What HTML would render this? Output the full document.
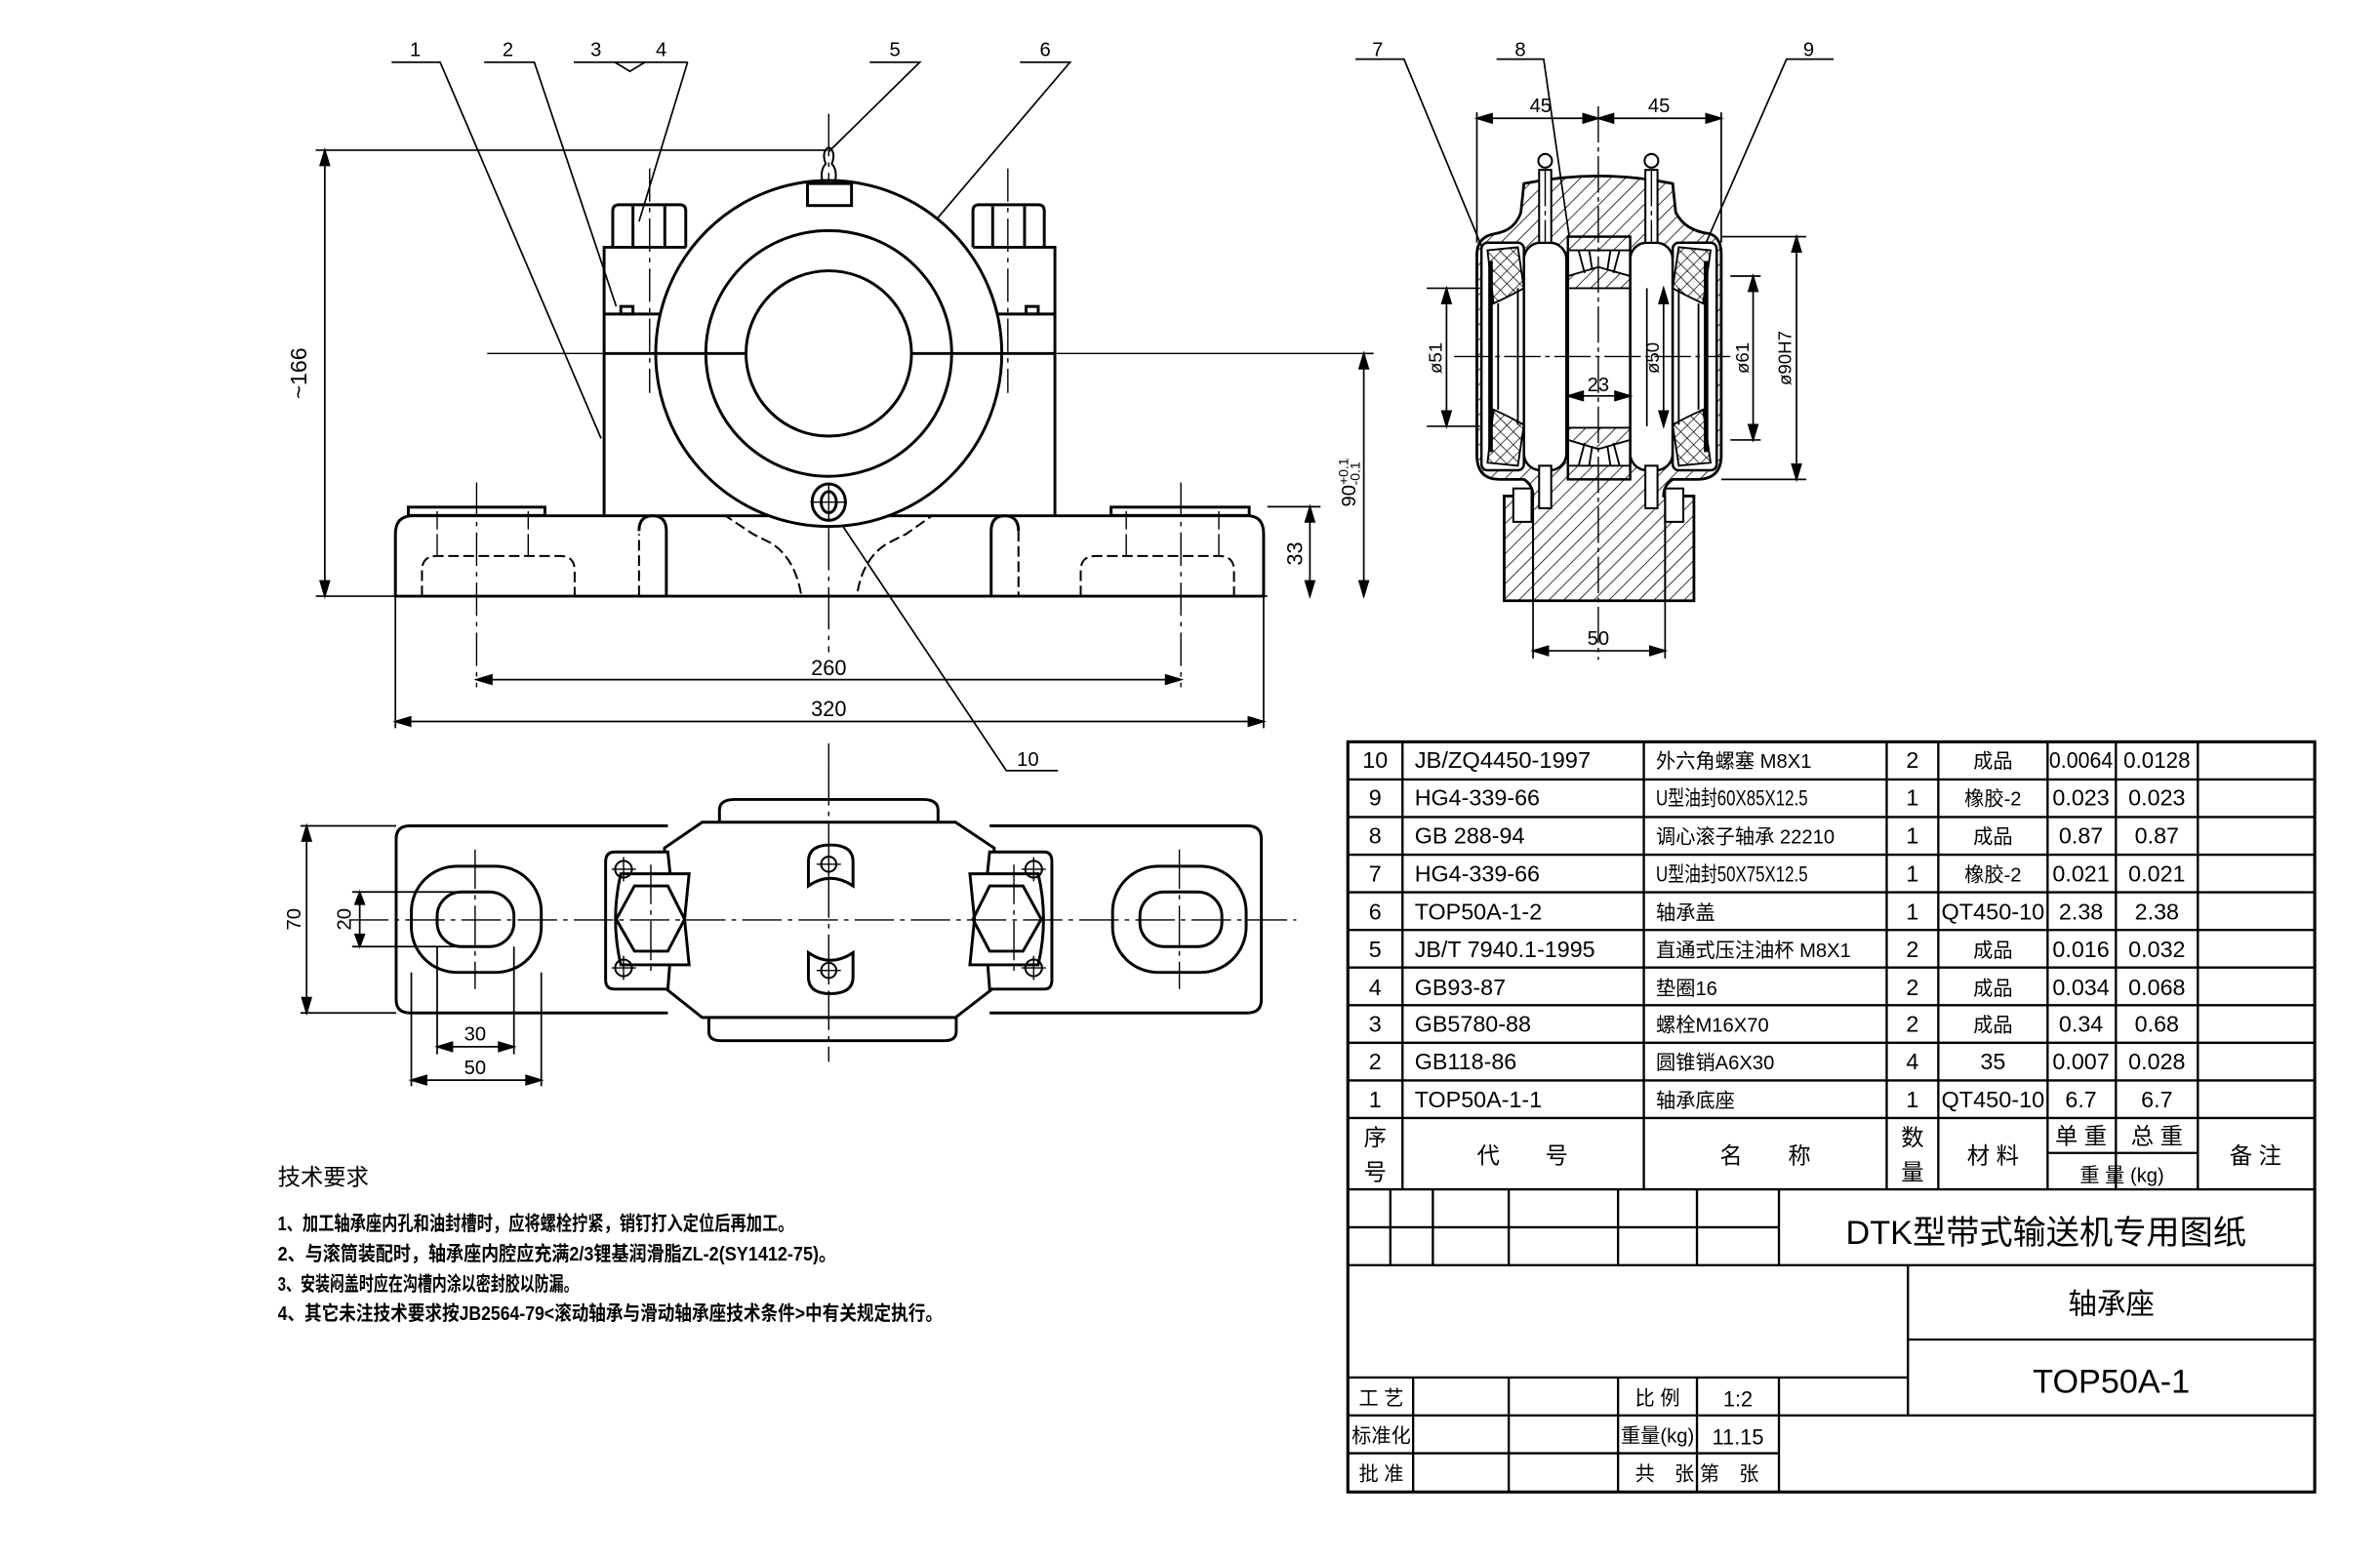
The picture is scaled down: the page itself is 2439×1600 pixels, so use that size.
<!DOCTYPE html>
<html><head><meta charset="utf-8"><style>
html,body{margin:0;padding:0;background:#fff}
svg{display:block}
text{font-family:"Liberation Sans","Noto Sans CJK SC",sans-serif;fill:#000}
</style></head><body>
<svg width="2439" height="1600" viewBox="0 0 1568 1029" preserveAspectRatio="none" xmlns="http://www.w3.org/2000/svg">
<defs>
<pattern id="h" patternUnits="userSpaceOnUse" width="7" height="7" patternTransform="rotate(45)"><line x1="0" y1="0" x2="0" y2="7" stroke="#000" stroke-width="1"/></pattern>
<pattern id="x" patternUnits="userSpaceOnUse" width="6" height="6" patternTransform="rotate(45)"><path d="M0 0V6M0 0H6" stroke="#000" stroke-width="0.9" fill="none"/></pattern>
</defs>
<rect width="1568" height="1029" fill="#fff"/>
<g fill="none" stroke="#000" stroke-width="1.1" font-size="13">
<!-- ===== FRONT VIEW ===== -->
<path d="M258 41H290L396 289M319 41H352L406 202M378 41H453M405 41L415 47L425 41M453 41L421 146M573 41H606L546 100M672 41H705L609 154M546 333L663 508H697"/>
<text x="270" y="37" stroke="none">1</text><text x="331" y="37" stroke="none">2</text>
<text x="389" y="37" stroke="none">3</text><text x="432" y="37" stroke="none">4</text>
<text x="586" y="37" stroke="none">5</text><text x="685" y="37" stroke="none">6</text>
<text x="670" y="505" stroke="none">10</text>
<path d="M546 75V430M546 490V505" stroke-dasharray="28 4 3 4" stroke-width="0.9"/>
<path d="M321 233H897" stroke-width="0.9"/>
<path d="M428 111V259M664 111V259M314 318V453M778 318V453" stroke-dasharray="22 4 3 4" stroke-width="0.9"/>
<g stroke-width="1.9">
<path d="M260.5 393V352Q260.5 340 272 340H822Q832.5 340 832.5 352V393Z"/>
<rect x="269" y="334.3" width="90" height="5.5"/>
<rect x="732" y="334.3" width="91" height="5.5"/>
<path d="M439 393V350Q439 340 430 340Q421 340 421 350" />
<path d="M653 393V350Q653 340 662 340Q671 340 671 350"/>
<path d="M398 340V163H452M398 207H440Q447 207 449 200M695 340V163H641M695 207H653Q646 207 644 200"/>
<path d="M403.7 163V139Q403.7 135 408 135H448Q451.8 135 451.8 139V163M417 135V163M438 135V163"/>
<path d="M641 163V139Q641 135 645 135H684Q688 135 688 139V163M654 135V163M675 135V163"/>
<rect x="409" y="202" width="8" height="5"/><rect x="676" y="202" width="8" height="5"/>
<circle cx="546" cy="233" r="114" fill="#fff"/>
<circle cx="546" cy="233" r="81"/>
<circle cx="546" cy="233" r="54.5"/>
<path d="M398 233H492M601 233H695"/>
<rect x="532" y="121" width="29" height="14.5" fill="#fff"/>
<path d="M542 121Q540 112 544 108Q541 100 546 97Q551 100 548 108Q552 112 550 121" stroke-width="1.3"/>
<ellipse cx="546" cy="331" rx="11" ry="12" fill="#fff"/><ellipse cx="546" cy="331" rx="5" ry="7"/>
</g>
<path d="M534 331H558M546 318V344" stroke-width="0.9"/>
<path d="M421 393V352M466 340L478 340L496 352L508 358Q524 368 528 393M628 340L614 340L597 352L585 358Q568 368 564.5 393M278 393V376Q278 366.5 288 366.5H369Q378.6 366.5 378.6 376V393M712 393V376Q712 366.5 722 366.5H803Q813 366.5 813 376V393M671 350V393" stroke-dasharray="7 3" stroke-width="1.3"/>
<path d="M288 366V337M348 366V337M742 366V337M803 366V337" stroke-dasharray="14 3" stroke-width="0.9"/>
<path d="M208 99H545M208 393H835M214 99V393M314 448H778M260.5 393V480M832.5 393V480M260.5 475.6H832.5M835 334H870M863 334V393M897 233H905M898.5 233V393"/>
<path d="M214 99l-3 10h6zM214 393l-3-10h6zM314 448l10-3v6zM778 448l-10-3v6zM260.5 475.6l10-3v6zM832.5 475.6l-10-3v6zM863 334l-3 10h6zM863 393l-3-10h6zM898.5 233l-3 10h6zM898.5 393l-3-10h6z" fill="#000"/>
<text x="202" y="246" font-size="15" stroke="none" transform="rotate(-90 202 246)" text-anchor="middle">~166</text>
<text x="546" y="445" font-size="14" stroke="none" text-anchor="middle">260</text>
<text x="546" y="472" font-size="14" stroke="none" text-anchor="middle">320</text>
<text x="858" y="365" font-size="14" stroke="none" transform="rotate(-90 858 365)" text-anchor="middle">33</text>
<text x="893" y="318" font-size="13" stroke="none" transform="rotate(-90 893 318)" text-anchor="middle">90<tspan font-size="9" dy="-5">+0.1</tspan><tspan font-size="9" dx="-18" dy="8">-0.1</tspan></text>

<!-- ===== SIDE VIEW ===== -->
<path d="M893 39H925L983 179M986 39H1017L1036 171M1208 39H1177L1124 160"/>
<text x="904" y="37" stroke="none">7</text><text x="998" y="37" stroke="none">8</text><text x="1188" y="37" stroke="none">9</text>
<path d="M1004 121Q1053 111 1102 121L1104 140Q1110 152 1126 154Q1134 156 1134 168V300Q1134 316 1118 316H1102Q1096 320 1096 327H1116V396H991V327H1010Q1010 320 1004 316H988Q973 316 973 300V168Q973 156 985 154Q998 152 1002 140Z" fill="url(#h)" stroke-width="1.8"/>
<g stroke-width="1.6" fill="#fff">
<rect x="1004" y="160" width="28" height="150" rx="11"/>
<rect x="1074" y="160" width="28" height="150" rx="11"/>
<rect x="1033" y="156" width="41" height="160"/>
<rect x="976" y="160" width="28" height="150" rx="4"/>
<rect x="1102" y="160" width="29" height="150" rx="4"/>
</g>
<g stroke-width="1.2">
<rect x="1033" y="156" width="41" height="9" fill="url(#h)"/>
<path d="M1033 182L1053 176L1074 182V190H1033Z" fill="url(#h)"/>
<path d="M1033 290L1053 296L1074 290V282H1033Z" fill="url(#h)"/>
<rect x="1033" y="307" width="41" height="9" fill="url(#h)"/>
<path d="M1040 165L1044 180M1047 165L1049 178M1061 165L1059 178M1067 165L1063 180M1040 307L1044 292M1047 307L1049 294M1061 307L1059 294M1067 307L1063 292"/>
<path d="M980 165L1000 163L1004 190Q995 195 984 200Z" fill="url(#x)"/>
<path d="M980 305L1000 307L1004 280Q995 275 984 270Z" fill="url(#x)"/>
<path d="M1127 165L1106 163L1102 190Q1111 195 1122 200Z" fill="url(#x)"/>
<path d="M1127 305L1106 307L1102 280Q1111 275 1122 270Z" fill="url(#x)"/>
</g>
<path d="M982 172V298M1124 172V298" stroke-width="3"/>
<path d="M987 200V270M1119 200V270M1000 190V280M1106 190V280" stroke-width="1.2"/>
<g stroke-width="1.3" fill="#fff">
<rect x="1014" y="112" width="8" height="48"/><circle cx="1018" cy="106" r="4.5"/>
<rect x="1084" y="112" width="8" height="48"/><circle cx="1088" cy="106" r="4.5"/>
<rect x="1014" y="307" width="8" height="28"/><rect x="1084" y="307" width="8" height="28"/>
<rect x="997" y="322" width="12" height="22"/><rect x="1097" y="322" width="12" height="22"/>
</g>
<path d="M1010 327V396M1097 327V396" stroke-width="1.3"/>
<path d="M1053 70V435M958 235H1140M1018 112V160M1088 112V160" stroke-width="0.9" stroke-dasharray="24 3 3 3"/>
<path d="M973 74V160M1134 74V160M973 78H1134M940 190H975M940 281H975M953 190V281M1085 190V281M1096 190V281M1033 261H1074M1140 182H1160M1140 290H1160M1155 182V290M1134 156H1190M1134 316H1190M1183.6 156V316M1010 396V434M1097 396V434M1010 429H1097"/>
<path d="M973 78l10-3v6zM1053 78l-10-3v6zM1053 78l10-3v6zM1134 78l-10-3v6zM953 190l-3 10h6zM953 281l-3-10h6zM1096 190l-3 10h6zM1096 281l-3-10h6zM1155 182l-3 10h6zM1155 290l-3-10h6zM1183.6 156l-3 10h6zM1183.6 316l-3-10h6zM1033 261l10-3v6zM1074 261l-10-3v6zM1010 429l10-3v6zM1097 429l-10-3v6z" fill="#000"/>
<text x="1015" y="74" font-size="13" stroke="none" text-anchor="middle">45</text>
<text x="1093" y="74" font-size="13" stroke="none" text-anchor="middle">45</text>
<text x="950" y="236" font-size="12" stroke="none" transform="rotate(-90 950 236)" text-anchor="middle">ø51</text>
<text x="1093" y="236" font-size="12" stroke="none" transform="rotate(-90 1093 236)" text-anchor="middle">ø50</text>
<text x="1152" y="236" font-size="12" stroke="none" transform="rotate(-90 1152 236)" text-anchor="middle">ø61</text>
<text x="1180" y="236" font-size="12" stroke="none" transform="rotate(-90 1180 236)" text-anchor="middle">ø90H7</text>
<text x="1053" y="258" font-size="13" stroke="none" text-anchor="middle">23</text>
<text x="1053" y="425" font-size="13" stroke="none" text-anchor="middle">50</text>

<!-- ===== PLAN VIEW ===== -->
<g stroke-width="1.9">
<path d="M440 544.4H270Q261 544.4 261 553V659Q261 667.7 270 667.7H440"/>
<path d="M652 544.4H822Q831 544.4 831 553V659Q831 667.7 822 667.7H652"/>
<path d="M474 542V534Q474 527 484 527H608Q618 527 618 534V542"/>
<path d="M467 671V680Q467 686 475 686H622Q630 686 630 680V671"/>
<path d="M462.6 542H629.5L655 559V651L629.5 670.7H462.6L437.8 651V559Z" fill="#fff"/>
<rect x="271" y="571" width="85.6" height="70" rx="30"/>
<rect x="288" y="588" width="50.6" height="36" rx="16"/>
<rect x="733" y="571" width="88" height="70" rx="30"/>
<rect x="751" y="588" width="54" height="36" rx="16"/>
<path d="M405 561.6H440L444 600L440 652H405Q399 652 399 646V568Q399 561.6 405 561.6Z" fill="#fff"/>
<path d="M688 561.6H652L648 600L652 652H688Q693 652 693 646V568Q693 561.6 688 561.6Z" fill="#fff"/>
<path d="M409 576H454L451 606L454 636H409Q402 606 409 576Z" fill="#fff"/>
<path d="M684 576H639L642 606L639 636H684Q691 606 684 576Z" fill="#fff"/>
<path d="M418 584H440L451 606L440 627H418L406 606Z"/>
<path d="M652 584H674L686 606L674 627H652L641 606Z"/>
<path d="M532.6 584V568Q532.6 557 547 557Q562 557 562 568V584Q547 574 532.6 584Z"/>
<path d="M532.6 628V644Q532.6 655 547 655Q562 655 562 644V628Q547 638 532.6 628Z"/>
</g>
<g stroke-width="1.3">
<circle cx="410.8" cy="573" r="5.5"/><circle cx="410.8" cy="638" r="5.5"/>
<circle cx="681" cy="573" r="5.5"/><circle cx="681" cy="638" r="5.5"/>
<circle cx="546" cy="569.7" r="5"/><circle cx="546" cy="639.7" r="5"/>
</g>
<path d="M230 606.4H854M546 505V700M313 560V652M777 560V652M428.8 570V640M668 570V640M410.8 565V581M403 573H419M410.8 630V646M403 638H419M681 565V581M673 573H689M681 630V646M673 638H689M546 562V578M538 569.7H554M546 632V648M538 639.7H554" stroke-width="0.9" stroke-dasharray="26 4 3 4"/>
<path d="M198 544.4H261M198 667.7H261M202 544.4V667.7M232 588H300M232 624H300M237 588V624M288 624V695M338.6 624V695M288 690H338.6M271 641V716M356.6 641V716M271 712H356.6"/>
<path d="M202 544.4l-3 10h6zM202 667.7l-3-10h6zM237 588l-3 8h6zM237 624l-3-8h6zM288 690l10-3v6zM338.6 690l-10-3v6zM271 712l10-3v6zM356.6 712l-10-3v6z" fill="#000"/>
<text x="198" y="606" font-size="13" stroke="none" transform="rotate(-90 198 606)" text-anchor="middle">70</text>
<text x="231" y="606" font-size="13" stroke="none" transform="rotate(-90 231 606)" text-anchor="middle">20</text>
<text x="313" y="686" font-size="13" stroke="none" text-anchor="middle">30</text>
<text x="313" y="708" font-size="13" stroke="none" text-anchor="middle">50</text>
</g>

<!-- ===== TECH REQUIREMENTS ===== -->
<g font-size="13">
<text x="183" y="781" font-size="15">技术要求</text>
<text x="183" y="811" textLength="340" lengthAdjust="spacingAndGlyphs" font-weight="bold">1、加工轴承座内孔和油封槽时，应将螺栓拧紧，销钉打入定位后再加工。</text>
<text x="183" y="831" textLength="368" lengthAdjust="spacingAndGlyphs" font-weight="bold">2、与滚筒装配时，轴承座内腔应充满2/3锂基润滑脂ZL-2(SY1412-75)。</text>
<text x="183" y="851" textLength="198" lengthAdjust="spacingAndGlyphs" font-weight="bold">3、安装闷盖时应在沟槽内涂以密封胶以防漏。</text>
<text x="183" y="870" textLength="438" lengthAdjust="spacingAndGlyphs" font-weight="bold">4、其它未注技术要求按JB2564-79&lt;滚动轴承与滑动轴承座技术条件&gt;中有关规定执行。</text>
</g>

<!-- ===== TABLE ===== -->
<g fill="none" stroke="#000" stroke-width="1.5">
<rect x="888" y="489" width="637" height="494.5" stroke-width="2"/>
<path d="M888 513.8H1525M888 538.6H1525M888 563.4H1525M888 588.2H1525M888 613H1525M888 637.8H1525M888 662.6H1525M888 687.4H1525M888 712.2H1525M888 737H1525M888 784H1525"/>
<path d="M924 489V784M1083 489V784M1243 489V784M1277 489V784M1349 489V784M1394 489V784M1448 489V784M1349 760H1448M1394 760V737"/>
<path d="M888 809H1172M916 784V834M944 784V834M994 784V834M1066 784V834M1118 784V834M1172 784V834M888 834H1525M1257 834V933M1257 883H1525M888 908H1257M888 933H1525M888 958H1172M931 908V983M994 908V983M1066 908V983M1118 908V983M1172 908V983"/>
</g>
<g font-size="15">
<text x="906" y="506" text-anchor="middle">10</text><text x="932" y="506" textLength="116" lengthAdjust="spacingAndGlyphs">JB/ZQ4450-1997</text><text x="1091" y="506" font-size="13">外六角螺塞 M8X1</text><text x="1260" y="506" text-anchor="middle">2</text><text x="1313" y="506" text-anchor="middle" font-size="13">成品</text><text x="1371" y="506" text-anchor="middle" textLength="42" lengthAdjust="spacingAndGlyphs">0.0064</text><text x="1421" y="506" text-anchor="middle" textLength="44" lengthAdjust="spacingAndGlyphs">0.0128</text>
<text x="906" y="531" text-anchor="middle">9</text><text x="932" y="531">HG4-339-66</text><text x="1091" y="531" font-size="14" textLength="100" lengthAdjust="spacingAndGlyphs">U型油封60X85X12.5</text><text x="1260" y="531" text-anchor="middle">1</text><text x="1313" y="531" text-anchor="middle" font-size="13">橡胶-2</text><text x="1371" y="531" text-anchor="middle">0.023</text><text x="1421" y="531" text-anchor="middle">0.023</text>
<text x="906" y="556" text-anchor="middle">8</text><text x="932" y="556">GB 288-94</text><text x="1091" y="556" font-size="13">调心滚子轴承 22210</text><text x="1260" y="556" text-anchor="middle">1</text><text x="1313" y="556" text-anchor="middle" font-size="13">成品</text><text x="1371" y="556" text-anchor="middle">0.87</text><text x="1421" y="556" text-anchor="middle">0.87</text>
<text x="906" y="581" text-anchor="middle">7</text><text x="932" y="581">HG4-339-66</text><text x="1091" y="581" font-size="14" textLength="100" lengthAdjust="spacingAndGlyphs">U型油封50X75X12.5</text><text x="1260" y="581" text-anchor="middle">1</text><text x="1313" y="581" text-anchor="middle" font-size="13">橡胶-2</text><text x="1371" y="581" text-anchor="middle">0.021</text><text x="1421" y="581" text-anchor="middle">0.021</text>
<text x="906" y="606" text-anchor="middle">6</text><text x="932" y="606">TOP50A-1-2</text><text x="1091" y="606" font-size="13">轴承盖</text><text x="1260" y="606" text-anchor="middle">1</text><text x="1313" y="606" text-anchor="middle" textLength="68" lengthAdjust="spacingAndGlyphs">QT450-10</text><text x="1371" y="606" text-anchor="middle">2.38</text><text x="1421" y="606" text-anchor="middle">2.38</text>
<text x="906" y="631" text-anchor="middle">5</text><text x="932" y="631">JB/T 7940.1-1995</text><text x="1091" y="631" font-size="13">直通式压注油杯 M8X1</text><text x="1260" y="631" text-anchor="middle">2</text><text x="1313" y="631" text-anchor="middle" font-size="13">成品</text><text x="1371" y="631" text-anchor="middle">0.016</text><text x="1421" y="631" text-anchor="middle">0.032</text>
<text x="906" y="656" text-anchor="middle">4</text><text x="932" y="656">GB93-87</text><text x="1091" y="656" font-size="13">垫圈16</text><text x="1260" y="656" text-anchor="middle">2</text><text x="1313" y="656" text-anchor="middle" font-size="13">成品</text><text x="1371" y="656" text-anchor="middle">0.034</text><text x="1421" y="656" text-anchor="middle">0.068</text>
<text x="906" y="680" text-anchor="middle">3</text><text x="932" y="680">GB5780-88</text><text x="1091" y="680" font-size="13">螺栓M16X70</text><text x="1260" y="680" text-anchor="middle">2</text><text x="1313" y="680" text-anchor="middle" font-size="13">成品</text><text x="1371" y="680" text-anchor="middle">0.34</text><text x="1421" y="680" text-anchor="middle">0.68</text>
<text x="906" y="705" text-anchor="middle">2</text><text x="932" y="705">GB118-86</text><text x="1091" y="705" font-size="13">圆锥销A6X30</text><text x="1260" y="705" text-anchor="middle">4</text><text x="1313" y="705" text-anchor="middle">35</text><text x="1371" y="705" text-anchor="middle">0.007</text><text x="1421" y="705" text-anchor="middle">0.028</text>
<text x="906" y="730" text-anchor="middle">1</text><text x="932" y="730">TOP50A-1-1</text><text x="1091" y="730" font-size="13">轴承底座</text><text x="1260" y="730" text-anchor="middle">1</text><text x="1313" y="730" text-anchor="middle" textLength="68" lengthAdjust="spacingAndGlyphs">QT450-10</text><text x="1371" y="730" text-anchor="middle">6.7</text><text x="1421" y="730" text-anchor="middle">6.7</text>
</g>
<g font-size="15" text-anchor="middle">
<text x="906" y="755">序</text><text x="906" y="778">号</text>
<text x="1003" y="767">代　　号</text>
<text x="1163" y="767">名　　称</text>
<text x="1260" y="755">数</text><text x="1260" y="778">量</text>
<text x="1313" y="767">材 料</text>
<text x="1371" y="754">单 重</text><text x="1421" y="754">总 重</text>
<text x="1398" y="779" font-size="13">重 量 (kg)</text>
<text x="1486" y="767">备 注</text>
<text x="1348" y="820" font-size="22">DTK型带式输送机专用图纸</text>
<text x="1391" y="866" font-size="19">轴承座</text>
<text x="1391" y="918" font-size="22">TOP50A-1</text>
<text x="910" y="926" font-size="13">工 艺</text>
<text x="910" y="951" font-size="13">标准化</text>
<text x="910" y="976" font-size="13">批 准</text>
<text x="1092" y="926" font-size="13">比 例</text>
<text x="1145" y="927" font-size="14">1:2</text>
<text x="1092" y="951" font-size="13">重量(kg)</text>
<text x="1145" y="952" font-size="14">11.15</text>
<text x="1118" y="976" font-size="13">共　张 第　张</text>
</g>
</svg>
</body></html>
